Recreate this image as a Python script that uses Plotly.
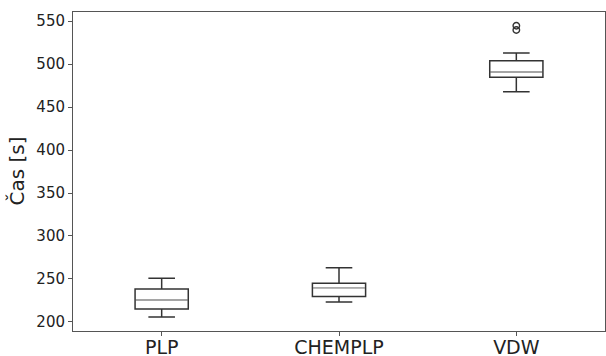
import plotly.graph_objects as go

categories = ["PLP", "CHEMPLP", "VDW"]
lower_whisker = [205.8, 223.3, 467.8]
q1 = [215.1, 229.5, 484.5]
median = [225.6, 239.2, 490.7]
q3 = [238.4, 245.0, 503.9]
upper_whisker = [250.8, 263.2, 512.8]
outliers = [[], [], [544.5, 539.5]]

box_width = 0.3
edge = "#333333"

fig = go.Figure()
for i, name in enumerate(categories):
    fig.add_trace(go.Box(
        x=[i], q1=[q1[i]], median=[median[i]], q3=[q3[i]],
        lowerfence=[lower_whisker[i]], upperfence=[upper_whisker[i]],
        width=box_width, whiskerwidth=0.5,
        line=dict(color=edge, width=1.5),
        fillcolor="rgba(0,0,0,0)", boxpoints=False, showlegend=False,
        hoverinfo="skip",
    ))
    # median line in light gray drawn over the box median
    fig.add_trace(go.Scatter(
        x=[i - box_width / 2 + 0.004, i + box_width / 2 - 0.004],
        y=[median[i], median[i]], mode="lines",
        line=dict(color="#bbbbbb", width=1.5), showlegend=False, hoverinfo="skip",
    ))
    if outliers[i]:
        fig.add_trace(go.Scatter(
            x=[i] * len(outliers[i]), y=outliers[i], mode="markers",
            marker=dict(symbol="circle-open", size=6.5, color=edge, line=dict(width=1.4)),
            showlegend=False, hoverinfo="skip",
        ))

plot_left, plot_right = 73, 605
fig.update_layout(
    width=606, height=356,
    margin=dict(l=plot_left, r=606 - plot_right, t=12, b=25),
    paper_bgcolor="white", plot_bgcolor="white",
    font=dict(family="DejaVu Sans", color="#222222"),
    annotations=[dict(
        text="Čas [s]", textangle=-90, showarrow=False,
        xref="paper", yref="paper",
        x=-(plot_left - 16) / (plot_right - plot_left), y=0.5,
        xanchor="center", yanchor="middle",
        font=dict(size=20, color="#222222"),
    )],
)
fig.update_xaxes(
    range=[-0.5, 2.5], tickmode="array", tickvals=[0, 1, 2], ticktext=categories,
    tickfont=dict(size=19), ticks="outside", ticklen=4, tickcolor="#555555",
    ticklabelstandoff=-5,
    showline=True, linecolor="#555555", linewidth=1, mirror=True,
    showgrid=False, zeroline=False, automargin=False,
)
fig.update_yaxes(
    range=[189.5, 560.5], tickmode="linear", tick0=200, dtick=50,
    tickfont=dict(size=15), ticks="outside", ticklen=4, tickcolor="#555555",
    showline=True, linecolor="#555555", linewidth=1, mirror=True,
    showgrid=False, zeroline=False, automargin=False,
)
fig.write_html(
    "out.html",
    config={"displayModeBar": False},
    post_script="document.body.style.margin='0';document.body.style.overflow='hidden';",
)
